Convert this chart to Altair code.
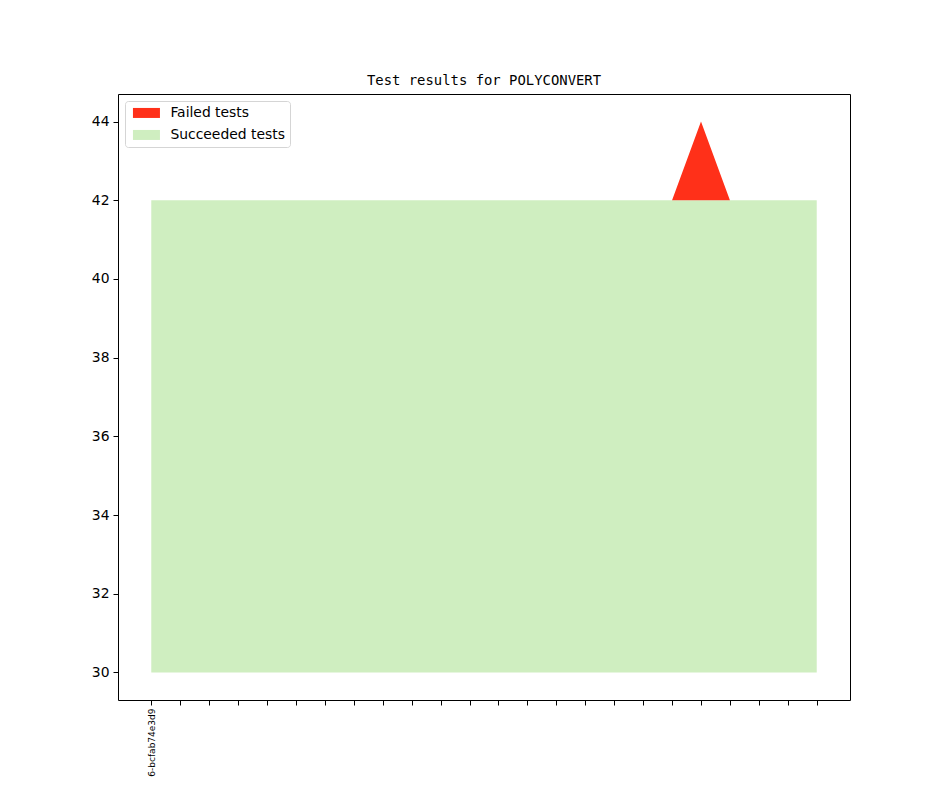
import altair as alt
import pandas as pd

# ---- data ----
build_index = [0, 1, 2, 3, 4, 5, 6, 7, 8, 9, 10, 11, 12, 13, 14, 15, 16, 17, 18, 19, 20, 21, 22, 23]
succeeded = [42, 42, 42, 42, 42, 42, 42, 42, 42, 42, 42, 42, 42, 42, 42, 42, 42, 42, 42, 42, 42, 42, 42, 42]
failed = [0, 0, 0, 0, 0, 0, 0, 0, 0, 0, 0, 0, 0, 0, 0, 0, 0, 0, 0, 2, 0, 0, 0, 0]
baseline = 30
tick_labels = ["6-bcfab74e3d9"] + [""] * 23
y_ticks = [30, 32, 34, 36, 38, 40, 42, 44]
series_names = ["Failed tests", "Succeeded tests"]
series_colors = ["#ff3019", "#cfeec0"]

rows = []
for i, s, f in zip(build_index, succeeded, failed):
    rows.append({"x": i, "series": "Succeeded tests", "lo": baseline, "hi": s, "order": 1})
    rows.append({"x": i, "series": "Failed tests", "lo": s, "hi": s + f, "order": 2})
df = pd.DataFrame(rows)

label_expr = "[" + ",".join("'" + t + "'" for t in tick_labels) + "][datum.value] || ''"

chart = alt.Chart(df).mark_area(opacity=1).encode(
    x=alt.X("x:Q",
            scale=alt.Scale(domain=[-1.15, 24.15], nice=False, zero=False),
            axis=alt.Axis(values=build_index, labelExpr=label_expr, labelAngle=270,
                          labelFontSize=9, title=None, grid=False, domain=False,
                          tickColor="black", tickSize=5, labelPadding=3,
                          labelColor="black", labelFont="DejaVu Sans")),
    y=alt.Y("hi:Q",
            scale=alt.Scale(domain=[29.3, 44.7], nice=False, zero=False),
            axis=alt.Axis(values=y_ticks, title=None, grid=False, domain=False,
                          tickColor="black", tickSize=5, labelPadding=4,
                          labelFontSize=13.9, labelColor="black", labelFont="DejaVu Sans")),
    y2="lo:Q",
    color=alt.Color("series:N",
                    scale=alt.Scale(domain=series_names, range=series_colors),
                    legend=alt.Legend(title=None, orient="top-left", offset=7,
                                      fillColor="white", strokeColor="#d5d5d5",
                                      cornerRadius=3, padding=5,
                                      symbolType="M-2.7,-1H2.7V1H-2.7Z", symbolSize=100,
                                      symbolOffset=9.5, labelOffset=17,
                                      symbolStrokeWidth=0, symbolOpacity=1,
                                      labelFontSize=13.9, labelFont="DejaVu Sans",
                                      labelColor="black", rowPadding=7)),
    order="order:Q",
).properties(
    width=732,
    height=606,
    title=alt.TitleParams("Test results for POLYCONVERT", font="DejaVu Sans Mono",
                          fontSize=13.9, fontWeight="normal", color="black",
                          anchor="middle", offset=6),
    autosize=alt.AutoSizeParams(type="none"),
    padding={"left": 110, "top": 86, "right": 86, "bottom": 82},
).configure_view(stroke="black", strokeWidth=1)

chart.save("out.html", embed_options={"renderer": "svg", "actions": False})
